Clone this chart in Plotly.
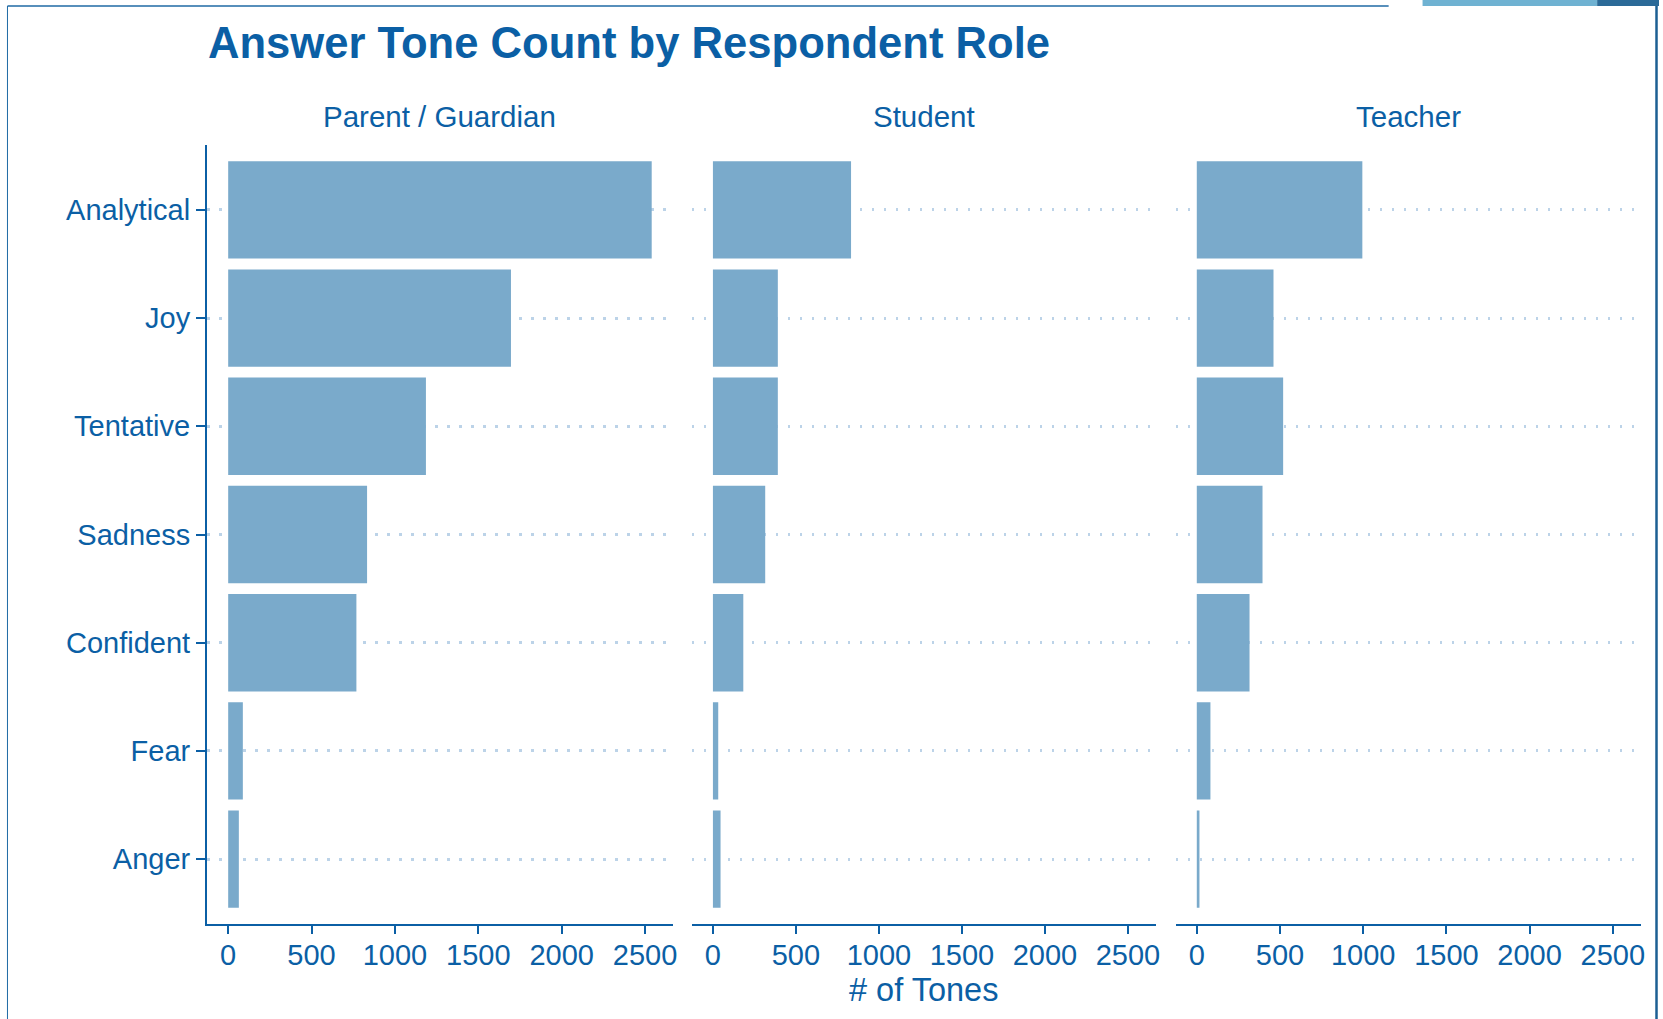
import plotly.graph_objects as go

# ---- data ----
roles = ["Parent / Guardian", "Student", "Teacher"]
tones = ["Analytical", "Joy", "Tentative", "Sadness", "Confident", "Fear", "Anger"]
parent_counts = [2540, 1696, 1186, 833, 769, 88, 64]
student_counts = [832, 391, 391, 315, 183, 32, 46]
teacher_counts = [995, 461, 519, 395, 317, 82, 16]
x_tick_vals = [0, 500, 1000, 1500, 2000, 2500]
x_tick_text = ["0", "500", "1000", "1500", "2000", "2500"]

# ---- style ----
W, H = 1663, 1019
DARK = "#0b5fa5"
BAR = "#7aaacb"
GRID = "#bcd3e8"
FONT = "Liberation Sans, Arial, sans-serif"

def px_x(p):
    return p / W

def px_y(p):
    return 1 - p / H

panels_px = [(207.5, 674.5), (693.5, 1158.5), (1178.5, 1644.5)]
plot_top, plot_bot = 145, 924

fig = go.Figure()
series = [parent_counts, student_counts, teacher_counts]
for i, vals in enumerate(series):
    sfx = "" if i == 0 else str(i + 1)
    fig.add_trace(go.Bar(
        x=vals, y=tones, orientation="h", width=0.9,
        marker=dict(color=BAR, line=dict(width=0)),
        xaxis="x" + sfx, yaxis="y" + sfx, showlegend=False,
        hoverinfo="x+y",
    ))

order = list(reversed(tones))
xrange = [-127, 2667]
layout = dict(
    width=W, height=H,
    margin=dict(l=0, r=0, t=0, b=0),
    paper_bgcolor="white", plot_bgcolor="white",
    font=dict(family=FONT, color=DARK, size=29),
    bargap=0.1,
)
for i, (a, b) in enumerate(panels_px):
    sfx = "" if i == 0 else str(i + 1)
    layout["xaxis" + sfx] = dict(
        domain=[px_x(a), px_x(b)], anchor="y" + sfx, range=xrange,
        tickvals=x_tick_vals, ticktext=x_tick_text,
        showline=True, linecolor=DARK, linewidth=2,
        ticks="outside", ticklen=8, tickwidth=2, tickcolor=DARK,
        showgrid=False, zeroline=False,
        tickfont=dict(size=29, color=DARK, family=FONT),
        ticklabelstandoff=-4,
        fixedrange=True,
    )
    layout["yaxis" + sfx] = dict(
        domain=[px_y(plot_bot), px_y(plot_top)], anchor="x" + sfx,
        type="category", categoryorder="array", categoryarray=order,
        range=[-0.6, len(tones) - 0.4],
        showgrid=True, gridcolor=GRID, gridwidth=2.5, griddash="2.5px,9.5px",
        zeroline=False,
        showline=(i == 0), linecolor=DARK, linewidth=2,
        ticks="outside" if i == 0 else "", ticklen=9, tickwidth=2, tickcolor=DARK,
        showticklabels=(i == 0),
        tickfont=dict(size=29, color=DARK, family=FONT),
        ticklabelstandoff=0,
        fixedrange=True,
    )
fig.update_layout(**layout)

annotations = [
    dict(text="<b>Answer Tone Count by Respondent Role</b>", x=px_x(206), y=px_y(42.5),
         xref="paper", yref="paper", xanchor="left", yanchor="middle", showarrow=False,
         font=dict(size=43.6, color=DARK, family=FONT)),
    dict(text="# of Tones", x=px_x((panels_px[1][0] + panels_px[1][1]) / 2), y=px_y(990),
         xref="paper", yref="paper", xanchor="center", yanchor="middle", showarrow=False,
         font=dict(size=32.5, color=DARK, family=FONT)),
]
for role, (a, b) in zip(roles, panels_px):
    annotations.append(dict(
        text=role, x=px_x((a + b) / 2), y=px_y(116), xref="paper", yref="paper",
        xanchor="center", yanchor="middle", showarrow=False,
        font=dict(size=29.5, color=DARK, family=FONT)))
fig.update_layout(annotations=annotations)

# frame decoration (screenshot border)
shapes = [
    dict(type="line", xref="paper", yref="paper", x0=px_x(7.5), x1=px_x(7.5), y0=0, y1=px_y(6),
         line=dict(color="#1f6aa5", width=1)),
    dict(type="line", xref="paper", yref="paper", x0=px_x(7.5), x1=px_x(1392), y0=px_y(6), y1=px_y(6),
         line=dict(color="#1f6aa5", width=1.5)),
    dict(type="line", xref="paper", yref="paper", x0=px_x(1660.5), x1=px_x(1660.5), y0=0, y1=px_y(6),
         line=dict(color="#1c5f93", width=2.5)),
    dict(type="rect", xref="paper", yref="paper", x0=px_x(1426), x1=px_x(1601), y0=px_y(6), y1=1,
         line=dict(width=0), fillcolor="#6fb2d2"),
    dict(type="rect", xref="paper", yref="paper", x0=px_x(1601), x1=1, y0=px_y(6), y1=1,
         line=dict(width=0), fillcolor="#2b6a98"),
]
fig.update_layout(shapes=shapes)

fig.write_html(
    "out.html",
    config={"displayModeBar": False},
    post_script="document.body.style.margin='0';document.body.style.overflow='hidden';",
)
